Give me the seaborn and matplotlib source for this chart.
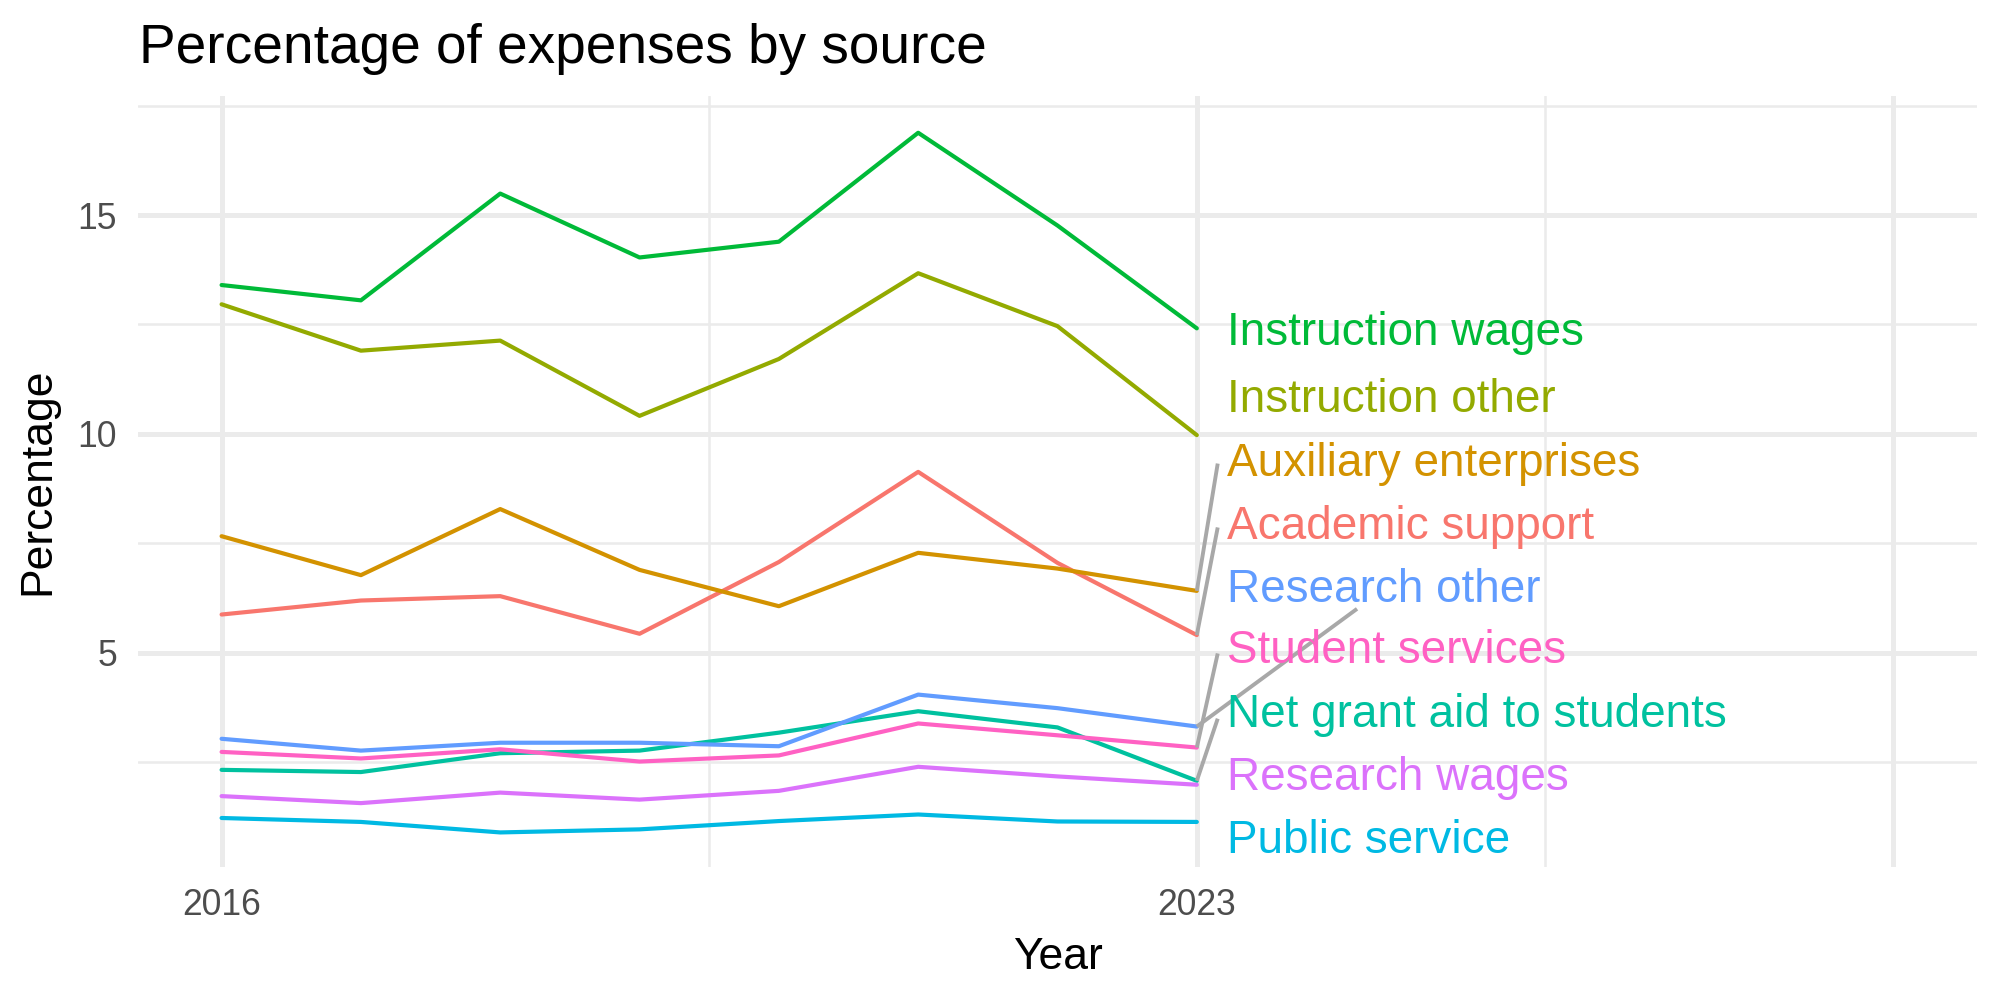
import pandas as pd
import numpy as np
import matplotlib.pyplot as plt
import seaborn as sns

# values
years = [2016, 2017, 2018, 2019, 2020, 2021, 2022, 2023]

academic_support = [5.87, 6.19, 6.29, 5.43, 7.07, 9.13, 7.05, 5.40]
auxiliary_enterprises = [7.66, 6.77, 8.28, 6.89, 6.06, 7.28, 6.92, 6.41]
instruction_other = [12.96, 11.90, 12.13, 10.41, 11.71, 13.67, 12.46, 9.97]
instruction_wages = [13.40, 13.05, 15.49, 14.03, 14.39, 16.88, 14.76, 12.41]
net_grant_aid = [2.32, 2.27, 2.70, 2.76, 3.17, 3.66, 3.29, 2.07]
public_service = [1.22, 1.13, 0.89, 0.96, 1.15, 1.30, 1.14, 1.13]
research_other = [3.03, 2.76, 2.94, 2.94, 2.86, 4.04, 3.73, 3.31]
research_wages = [1.72, 1.56, 1.80, 1.64, 1.84, 2.39, 2.17, 1.98]
student_services = [2.73, 2.58, 2.79, 2.51, 2.65, 3.38, 3.11, 2.83]

sources = ["Academic support", "Auxiliary enterprises", "Instruction other",
           "Instruction wages", "Net grant aid to students", "Public service",
           "Research other", "Research wages", "Student services"]
series = [academic_support, auxiliary_enterprises, instruction_other,
          instruction_wages, net_grant_aid, public_service,
          research_other, research_wages, student_services]

# ggplot default hue palette, 9 levels
colors = ["#F8766D", "#D39200", "#93AA00", "#00BA38", "#00C19F",
          "#00B9E3", "#619CFF", "#DB72FB", "#FF61C3"]

# repelled label baselines (top to bottom order as drawn)
label_order = ["Instruction wages", "Instruction other", "Auxiliary enterprises",
               "Academic support", "Research other", "Student services",
               "Net grant aid to students", "Research wages", "Public service"]
label_y = [12.02, 10.49, 9.03, 7.60, 6.16, 4.76, 3.31, 1.87, 0.42]
label_x = 2023.22
# connector segment ends for labels pushed away from their line
seg_end = {
    "Auxiliary enterprises": (2023.15, 9.32),
    "Academic support": (2023.15, 7.86),
    "Research other": (2024.15, 6.00),
    "Student services": (2023.15, 4.98),
    "Net grant aid to students": (2023.15, 3.49),
}

df = pd.DataFrame({
    "Year": np.tile(years, len(sources)),
    "Source": np.repeat(sources, len(years)),
    "Percentage": np.concatenate(series),
})
palette = dict(zip(sources, colors))

sns.set_theme(style="white")
plt.rcParams["font.family"] = ["Liberation Sans", "DejaVu Sans"]

fig = plt.figure(figsize=(10, 5), dpi=200)
ax = fig.add_axes([0.069, 0.133, 0.9195, 0.771])

sns.lineplot(data=df, x="Year", y="Percentage", hue="Source", palette=palette,
             linewidth=1.5, legend=False, ax=ax, zorder=3)

last = df[df["Year"] == 2023].set_index("Source")["Percentage"]
for name, ly in zip(label_order, label_y):
    if name in seg_end:
        ex, ey = seg_end[name]
        ax.plot([2023, ex], [last[name], ey], color="#A8A8A8", lw=1.4,
                zorder=4, solid_capstyle="butt")
    ax.text(label_x, ly, name, color=palette[name], fontsize=16.5,
            ha="left", va="baseline", zorder=5)

ax.set_xlim(2015.4, 2028.6)
ax.set_ylim(0.10, 17.72)
ax.set_xticks([2016, 2023, 2028])
ax.set_xticklabels(["2016", "2023", ""])
ax.set_xticks([2019.5, 2025.5], minor=True)
ax.set_yticks([5, 10, 15])
ax.set_yticks([2.5, 7.5, 12.5, 17.5], minor=True)
ax.grid(which="major", color="#EBEBEB", linewidth=1.8)
ax.grid(which="minor", color="#EBEBEB", linewidth=0.9)
ax.set_axisbelow(True)
for s in ax.spines.values():
    s.set_visible(False)
ax.tick_params(which="both", length=0, labelsize=12.8, labelcolor="#4D4D4D", pad=7.5)

ax.set_xlabel("Year", fontsize=16, color="black", labelpad=5)
ax.set_ylabel("Percentage", fontsize=16, color="black", labelpad=7)
fig.text(0.0695, 1 - 63 / 1000, "Percentage of expenses by source",
         fontsize=19.8, ha="left", va="baseline", color="black")

fig.savefig("out.png", dpi=200, facecolor="white")
